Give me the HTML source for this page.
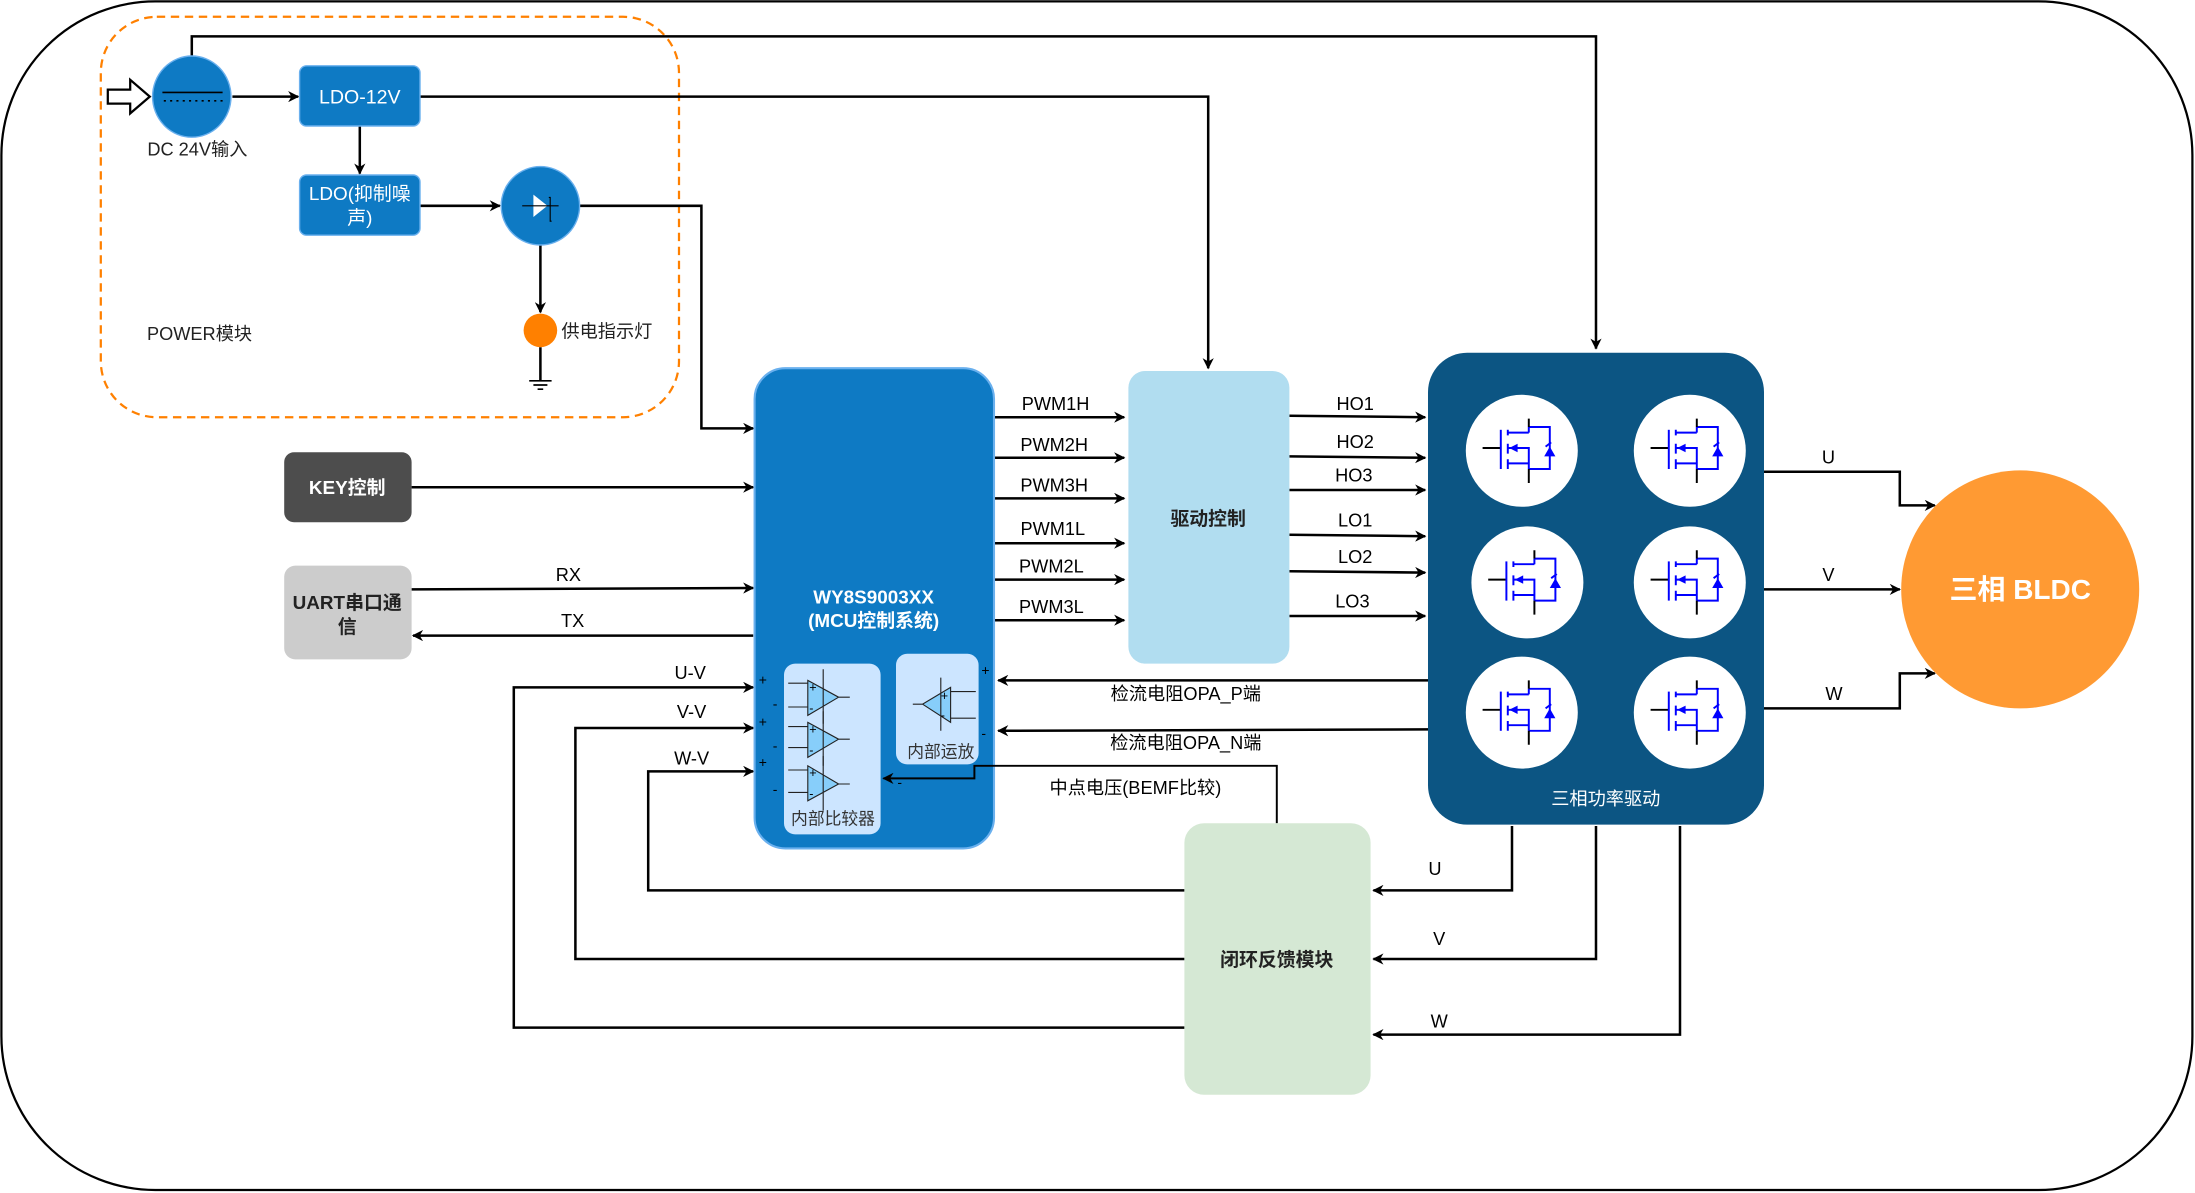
<!DOCTYPE html>
<html><head><meta charset="utf-8"><style>
html,body{margin:0;padding:0;background:#fff;}
svg{display:block;}
text{font-family:"Liberation Sans","Noto Sans CJK SC",sans-serif;}
</style></head><body>
<svg width="2195" height="1193" viewBox="0 0 1567.86 852.14" xmlns="http://www.w3.org/2000/svg">
<defs>
<marker id="a" viewBox="0 0 10 10" refX="9" refY="5" markerWidth="8" markerHeight="8" markerUnits="userSpaceOnUse" orient="auto">
<path d="M0,0 L10,5 L0,10 L3,5 Z" fill="#000"/></marker>
<g id="mos">
<circle r="40" fill="#fff"/>
<g stroke="#0000ff" stroke-width="1.4" fill="none">
<path d="M-15,-2 H-28" stroke="#000"/>
<path d="M-15,-15 V13"/>
<path d="M-10,-15 V-11 M-10,-5 V2 M-10,6 V13"/>
<path d="M-10,-13 H5 M-10,9 H5 V13 M5,-13 V-17 M-10,-2 H5 V9"/>
<path d="M5,-17 H20 V13 H5"/>
<path d="M17,-3 L21,-6"/>
</g>
<path d="M5,-17 V-23 M5,13 V23" stroke="#000" stroke-width="1.4"/>
<path d="M-9,-2 L-3,-5 L-3,1 Z" fill="#0000ff"/>
<path d="M20,-3 L16,4 L24,4 Z" fill="#0000ff"/>
</g>
</defs>
<rect x="1" y="1" width="1565" height="849" rx="110" fill="#fff" stroke="#000" stroke-width="1.6"/>
<rect x="72" y="12" width="413" height="286" rx="40" fill="none" stroke="#FF8000" stroke-width="1.6" stroke-dasharray="6,4"/>

<g stroke="#000" stroke-width="1.8" fill="none">
<path d="M137,41 V26 H1140 V249" marker-end="url(#a)"/>
<path d="M166,69 H213" marker-end="url(#a)"/>
<path d="M257,90 V124" marker-end="url(#a)"/>
<path d="M300,69 H863 V263" marker-end="url(#a)"/>
<path d="M300,147 H357" marker-end="url(#a)"/>
<path d="M386,175 V223" marker-end="url(#a)"/>
<path d="M386,248 V272"/>
<path d="M414,147 H501 V306 H538" marker-end="url(#a)"/>
<path d="M294,348 H538" marker-end="url(#a)"/>
<path d="M294,421 L538,420" marker-end="url(#a)"/>
<path d="M538,454 H295" marker-end="url(#a)"/>
<path d="M710,298 H803" marker-end="url(#a)"/>
<path d="M710,327 H803" marker-end="url(#a)"/>
<path d="M710,356 H803" marker-end="url(#a)"/>
<path d="M710,388 H803" marker-end="url(#a)"/>
<path d="M710,414 H803" marker-end="url(#a)"/>
<path d="M710,443 H803" marker-end="url(#a)"/>
<path d="M921,297 L1018,298" marker-end="url(#a)"/>
<path d="M921,326 L1018,327" marker-end="url(#a)"/>
<path d="M921,350 H1018" marker-end="url(#a)"/>
<path d="M921,382 L1018,383" marker-end="url(#a)"/>
<path d="M921,408 L1018,409" marker-end="url(#a)"/>
<path d="M921,440 H1018" marker-end="url(#a)"/>
<path d="M1260,337 H1357 V361 H1382" marker-end="url(#a)"/>
<path d="M1260,421 H1357" marker-end="url(#a)"/>
<path d="M1260,506 H1357 V481 H1382" marker-end="url(#a)"/>
<path d="M1020,486 H713" marker-end="url(#a)"/>
<path d="M1020,521 L713,522" marker-end="url(#a)"/>
<path d="M1080,590 V636 H981" marker-end="url(#a)"/>
<path d="M1140,590 V685 H981" marker-end="url(#a)"/>
<path d="M1200,590 V739 H981" marker-end="url(#a)"/>
<path d="M846,636 H463 V551 H538" marker-end="url(#a)"/>
<path d="M846,685 H411 V520 H538" marker-end="url(#a)"/>
<path d="M846,734 H367 V491 H538" marker-end="url(#a)"/>
</g>
<path d="M77,64 H93 V57 L107,69 L93,81 V74 H77 Z" fill="#fff" stroke="#000" stroke-width="1.6"/>
<ellipse cx="137" cy="69" rx="28" ry="29" fill="#0E7AC4" stroke="#6ab0ee"/>
<line x1="116" y1="66" x2="159" y2="66" stroke="#000" stroke-width="1.2"/>
<line x1="117" y1="72" x2="159" y2="72" stroke="#000" stroke-width="1.2" stroke-dasharray="1.5,3"/>
<text x="141" y="111" font-size="13" text-anchor="middle" fill="#222">DC 24V输入</text>
<rect x="214" y="47" width="86" height="43" rx="5" fill="#0E7AC4" stroke="#6ab0ee"/>
<text x="257" y="74" font-size="14" text-anchor="middle" fill="#fff">LDO-12V</text>
<rect x="214" y="125" width="86" height="43" rx="5" fill="#0E7AC4" stroke="#6ab0ee"/>
<text x="257" y="143" font-size="13.5" text-anchor="middle" fill="#fff">LDO(抑制噪</text>
<text x="257" y="160" font-size="13.5" text-anchor="middle" fill="#fff">声)</text>
<ellipse cx="386" cy="147" rx="28" ry="28" fill="#0E7AC4" stroke="#6ab0ee"/>
<path d="M381,139 L391,147 L381,155 Z" fill="#fff"/>
<path d="M373,147 H399 M392,141 H393 V158 H394" stroke="#000" stroke-width="0.8" fill="none"/>
<ellipse cx="386" cy="236" rx="12" ry="12" fill="#FF8000"/>
<path d="M378,272 H394 M381,275 H391 M384,278 H388" stroke="#000" stroke-width="1.2"/>
<text x="401" y="241" font-size="13" fill="#222">供电指示灯</text>
<text x="105" y="243" font-size="13" fill="#222">POWER模块</text>

<rect x="203" y="323" width="91" height="50" rx="7" fill="#4D4D4D"/>
<text x="248" y="353" font-size="13.5" font-weight="bold" text-anchor="middle" fill="#fff">KEY控制</text>
<rect x="203" y="404" width="91" height="67" rx="8" fill="#CCCCCC"/>
<text x="248" y="435" font-size="13.5" font-weight="bold" text-anchor="middle" fill="#222">UART串口通</text>
<text x="248" y="452" font-size="13.5" font-weight="bold" text-anchor="middle" fill="#222">信</text>
<text x="406" y="415" font-size="13" text-anchor="middle">RX</text>
<text x="409" y="448" font-size="13" text-anchor="middle">TX</text>

<rect x="539" y="263" width="171" height="343" rx="22" fill="#0E7AC4" stroke="#6ab0ee" stroke-width="1.5"/>
<text x="624" y="431" font-size="13.5" font-weight="bold" text-anchor="middle" fill="#fff">WY8S9003XX</text>
<text x="624" y="448" font-size="13.5" font-weight="bold" text-anchor="middle" fill="#fff">(MCU控制系统)</text>
<rect x="560" y="474" width="69" height="122" rx="8" fill="#CCE5FF"/>
<rect x="640" y="467" width="59" height="79" rx="8" fill="#CCE5FF"/>
<text x="595" y="589" font-size="12" text-anchor="middle" fill="#333">内部比较器</text>
<text x="672" y="541" font-size="12" text-anchor="middle" fill="#333">内部运放</text>
<path d="M912,588 V547 H696 V556 H631" marker-end="url(#a)" stroke="#000" stroke-width="1.4" fill="none"/>
<g stroke="#222" stroke-width="0.8" fill="#87CEFA">
<path d="M577,486 L599,498 L577,511 Z M563,488 H577 M563,505 H577 M599,498 H607 M588,478 V517"/>
<path d="M577,516 L599,528 L577,541 Z M563,519 H577 M563,534 H577 M599,528 H607 M588,508 V547"/>
<path d="M577,547 L599,560 L577,572 Z M563,550 H577 M563,566 H577 M599,560 H607 M588,540 V579"/>
<path d="M679,491 L659,503 L679,516 Z M679,494 H697 M679,513 H697 M652,503 H659 M672,484 V522"/>
</g>
<g font-size="9" fill="#000">
<text x="578" y="494">+</text><text x="578" y="509">-</text>
<text x="578" y="524">+</text><text x="578" y="539">-</text>
<text x="578" y="555">+</text><text x="578" y="570">-</text>
<text x="672" y="500">+</text><text x="672" y="514">-</text>
<text x="542" y="489" font-size="10">+</text><text x="552" y="506" font-size="10">-</text>
<text x="542" y="519" font-size="10">+</text><text x="552" y="536" font-size="10">-</text>
<text x="542" y="548" font-size="10">+</text><text x="552" y="567" font-size="10">-</text>
<text x="701" y="482" font-size="10">+</text><text x="701" y="527" font-size="10">-</text>
<text x="641" y="562" font-size="10">-</text>
</g>
<text x="493" y="485" font-size="13" text-anchor="middle">U-V</text>
<text x="494" y="513" font-size="13" text-anchor="middle">V-V</text>
<text x="494" y="546" font-size="13" text-anchor="middle">W-V</text>

<g font-size="13" text-anchor="middle">
<text x="754" y="293">PWM1H</text><text x="753" y="322">PWM2H</text><text x="753" y="351">PWM3H</text>
<text x="752" y="382">PWM1L</text><text x="751" y="409">PWM2L</text><text x="751" y="438">PWM3L</text>
<text x="968" y="293">HO1</text><text x="968" y="320">HO2</text><text x="967" y="344">HO3</text>
<text x="968" y="376">LO1</text><text x="968" y="402">LO2</text><text x="966" y="434">LO3</text>
<text x="847" y="500">检流电阻OPA_P端</text><text x="847" y="535">检流电阻OPA_N端</text>
<text x="811" y="567">中点电压(BEMF比较)</text>
<text x="1306" y="331">U</text><text x="1306" y="415">V</text><text x="1310" y="500">W</text>
<text x="1025" y="625">U</text><text x="1028" y="675">V</text><text x="1028" y="734">W</text>
</g>

<rect x="806" y="265" width="115" height="209" rx="12" fill="#B1DDF0"/>
<text x="863" y="375" font-size="13.5" font-weight="bold" text-anchor="middle" fill="#222">驱动控制</text>

<rect x="1020" y="252" width="240" height="337" rx="28" fill="#0C5583"/>
<use href="#mos" x="1087" y="322"/><use href="#mos" x="1207" y="322"/>
<use href="#mos" x="1091" y="416"/><use href="#mos" x="1207" y="416"/>
<use href="#mos" x="1087" y="509"/><use href="#mos" x="1207" y="509"/>
<text x="1147" y="575" font-size="13" text-anchor="middle" fill="#fff">三相功率驱动</text>

<circle cx="1443" cy="421" r="85" fill="#FF9A33"/>
<text x="1443" y="428" font-size="20" font-weight="bold" text-anchor="middle" fill="#fff">三相 BLDC</text>

<rect x="846" y="588" width="133" height="194" rx="14" fill="#D5E8D4"/>
<text x="912" y="690" font-size="13.5" font-weight="bold" text-anchor="middle" fill="#222">闭环反馈模块</text>
</svg>
</body></html>
